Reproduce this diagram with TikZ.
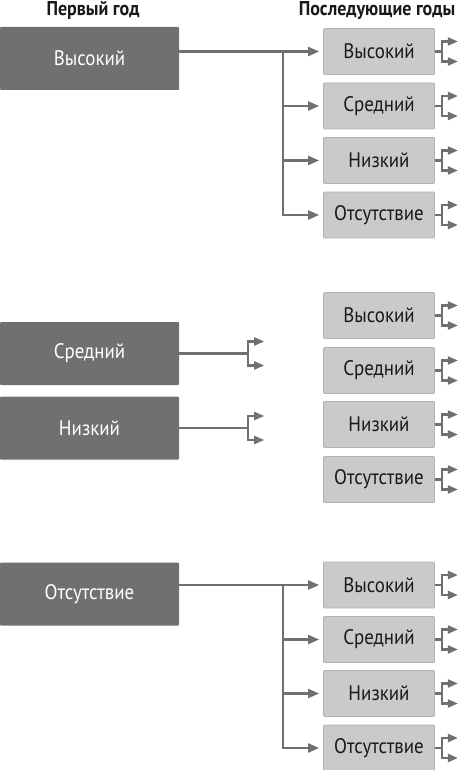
\documentclass[tikz,border=0pt]{standalone}
\usepackage{fontspec}
\setmainfont{PT Sans}[FakeStretch=0.9]
\usepackage{tikz}
\usetikzlibrary{positioning, arrows.meta, calc}
\definecolor{darkbox}{RGB}{112,112,112}
\definecolor{lightbox}{RGB}{202,202,202}
\definecolor{lightedge}{RGB}{178,178,178}
\definecolor{linegray}{RGB}{112,112,112}
\definecolor{ink}{RGB}{25,25,25}

\begin{document}
\begin{tikzpicture}[x=1pt, y=-1pt,
        first/.style={rectangle, fill=darkbox, minimum width=179pt, minimum height=63pt, inner sep=0pt, rounded corners=1pt, text=white, font=\fontsize{21}{21}\selectfont},
        next/.style={rectangle, fill=lightbox, draw=lightedge, line width=0.8pt, minimum width=111pt, minimum height=46pt, inner sep=0pt, rounded corners=1pt, text=ink, font=\fontsize{21}{21}\selectfont},
        head/.style={font=\bfseries\fontsize{20}{20}\selectfont, text=ink},
        wire/.style={draw=linegray, line width=2.2pt},
        tip/.style={wire, -{Triangle[length=11pt, width=9pt]}, shorten >=4pt},
        forktip/.style={wire, -{Triangle[length=10pt, width=8pt]}},
    ]
    \useasboundingbox (0,0) rectangle (460,770);

    % Headings
    \node[head, anchor=base] (headFirst) at (93,16) {Первый год};
    \node[head, anchor=base] (headNext) at (377,16) {Последующие годы};

    % First year
    \node[first] (firstHigh) at (89.5,58.5) {Высокий};
    \node[first] (firstMid) at (89.5,353.5) {Средний};
    \node[first] (firstLow) at (89.5,428) {Низкий};
    \node[first] (firstNone) at (89.5,594) {Отсутствие};

    % Following years after high
    \node[next] (hiHigh) at (379,51.5) {Высокий};
    \node[next] (hiMid) at (379,106) {Средний};
    \node[next] (hiLow) at (379,160.5) {Низкий};
    \node[next] (hiNone) at (379,215) {Отсутствие};

    % Following years, middle column
    \node[next] (mdHigh) at (379,315.5) {Высокий};
    \node[next] (mdMid) at (379,370.5) {Средний};
    \node[next] (mdLow) at (379,424.5) {Низкий};
    \node[next] (mdNone) at (379,479.5) {Отсутствие};

    % Following years after none
    \node[next] (noHigh) at (379,585) {Высокий};
    \node[next] (noMid) at (379,639.5) {Средний};
    \node[next] (noLow) at (379,693.5) {Низкий};
    \node[next] (noNone) at (379,748) {Отсутствие};

    % Branches from the first year
    \coordinate (hiFork) at (283,51.5);
    \draw[tip] (firstHigh.east |- hiHigh) -- (hiHigh.west);
    \draw[tip] (hiFork) |- (hiNone.west);
    \draw[tip] (hiFork |- hiMid) -- (hiMid.west);
    \draw[tip] (hiFork |- hiLow) -- (hiLow.west);

    \coordinate (noFork) at (283,585);
    \draw[tip] (firstNone.east |- noHigh) -- (noHigh.west);
    \draw[tip] (noFork) |- (noNone.west);
    \draw[tip] (noFork |- noMid) -- (noMid.west);
    \draw[tip] (noFork |- noLow) -- (noLow.west);

    \draw[wire] (firstMid.east) -- ++(69,0) coordinate (midFork);
    \draw[forktip] (midFork) |- ++(16,-12);
    \draw[forktip] (midFork) |- ++(16,12);
    \draw[wire] (firstLow.east) -- ++(69,0) coordinate (lowFork);
    \draw[forktip] (lowFork) |- ++(16,-12);
    \draw[forktip] (lowFork) |- ++(16,12);

    % Small forks after every later year
    \foreach \n in {hiHigh,hiMid,hiLow,hiNone,mdHigh,mdMid,mdLow,mdNone,noHigh,noMid,noLow,noNone} {
        \draw[wire] (\n.east) -- ++(7,0) coordinate (\n-f);
        \draw[forktip] (\n-f) |- ++(16,-10);
        \draw[forktip] (\n-f) |- ++(16,10);
    }
\end{tikzpicture}
\end{document}
